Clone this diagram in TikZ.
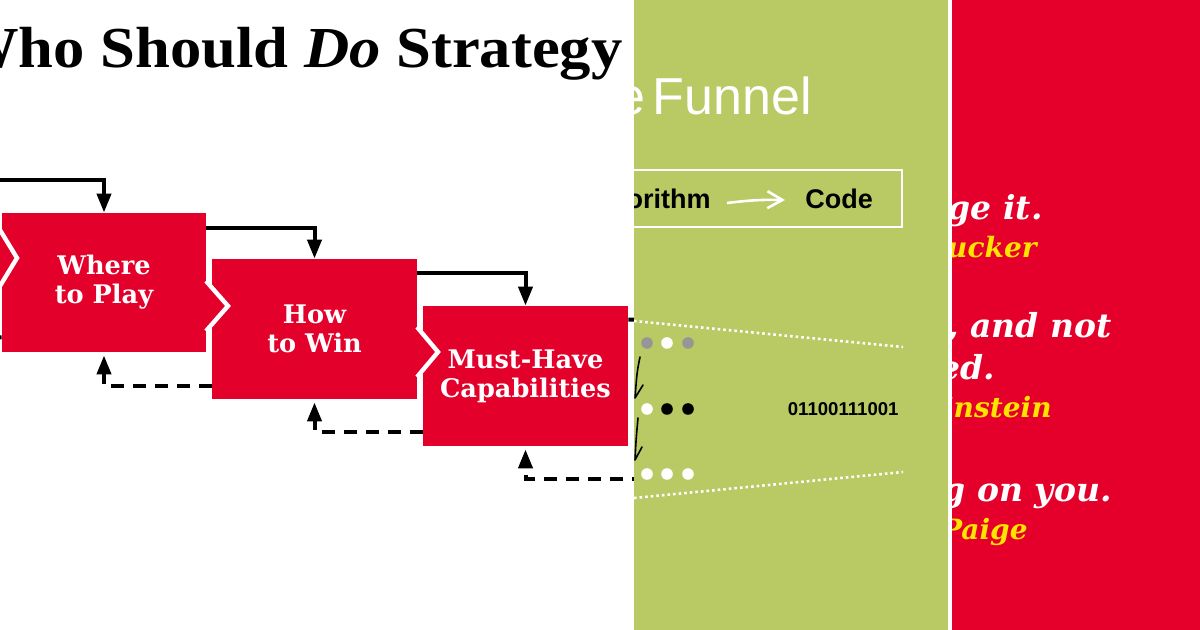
\documentclass[tikz,border=0pt]{standalone}
\usepackage{fontspec}
\setmainfont{Liberation Serif}
\newfontfamily\boxfont{DejaVu Serif}
\newfontfamily\helv{Liberation Sans}
\usetikzlibrary{arrows.meta,calc}
\definecolor{boxred}{RGB}{227,0,43}
\definecolor{panelred}{RGB}{229,0,43}
\definecolor{olive}{RGB}{185,201,99}
\definecolor{qyellow}{RGB}{255,228,0}
\definecolor{dotgray}{RGB}{150,150,150}
\begin{document}
\begin{tikzpicture}[x=0.5pt,y=-0.5pt,
  stratbox/.style={fill=boxred, draw=none, minimum width=102.5pt, minimum height=70pt,
    inner sep=0pt, text=white, font=\boxfont\bfseries\fontsize{12.8}{14.5}\selectfont, align=center},
  flow/.style={line width=2pt, -{Triangle[length=9.5pt,width=7pt]}},
  back/.style={line width=2pt, dash pattern=on 6.5pt off 4.5pt, shorten >=1.5pt,
    -{Triangle[length=9.5pt,width=7pt]}},
  backline/.style={line width=2pt, dash pattern=on 6.5pt off 4.5pt},
  notch/.style={white, line width=2.2pt, line join=miter},
  tip/.style={fill=boxred},
  dot/.style={circle, minimum size=5.8pt, inner sep=0pt, draw=none},
  quote/.style={anchor=base east, inner sep=0pt, text=white,
    font=\boxfont\bfseries\itshape\fontsize{16.5}{18}\selectfont},
  who/.style={quote, text=qyellow, font=\boxfont\bfseries\itshape\fontsize{14}{16}\selectfont},
  hand/.style={black, line width=0.8pt, line cap=round, line join=round}
]
\useasboundingbox (0,0) rectangle (1200,630);
\clip (0,0) rectangle (1200,630);
\fill[white] (0,0) rectangle (1200,630);

% ---------- left panel ----------
\node[anchor=base east, inner sep=0pt, font=\bfseries\fontsize{29}{31}\selectfont] (title)
  at (623,68) {\scalebox{1.08}[1]{Who Should \textit{Do} Strategy}};

\node[stratbox, minimum width=102pt, minimum height=69.5pt] (b1) at (104,282.5) {Where\\to Play};
\node[stratbox] (b2) at (314.5,329) {How\\to Win};
\node[stratbox] (b3) at (525.5,376) {Must-Have\\Capabilities};

% chevron tips between boxes
\fill[tip] (-10,230) -- (0,230) -- (17,258) -- (0,286) -- (-10,286) -- cycle;
\draw[notch] (0,230) -- (17,258) -- (0,286);
\fill[tip] (204,281) -- (228,306) -- (204,331) -- cycle;
\draw[notch] (206,281) -- (228,306) -- (206,331);
\fill[tip] (415,327) -- (438,352) -- (415,377) -- cycle;
\draw[notch] (417,327) -- (438,352) -- (417,377);

% forward arrows
\coordinate (in1) at (-10,180);
\coordinate (out3) at (645,320);
\draw[flow] (in1) -| (b1.north);
\draw[flow] ($(b1.north east)+(0,15)$) -| (b2.north);
\draw[flow] ($(b2.north east)+(0,14)$) -| (b3.north);
\draw[line width=2pt] ($(b3.north east)+(0,14)$) -- (out3);

% feedback arrows
\coordinate (out1) at (-10,337);
\coordinate (in3) at (645,479);
\draw[backline] ($(b1.south west)+(0,-15)$) -- (out1);
\draw[back] ($(b2.south west)+(0,-13)$) -| (b1.south);
\draw[back] ($(b3.south west)+(0,-14)$) -| (b2.south);
\draw[back] (in3) -| (b3.south);

% ---------- green panel ----------
\begin{scope}
\clip (634,0) rectangle (948,630);
\fill[olive] (634,0) rectangle (948,630);
\node[anchor=base east, inner sep=0pt, text=white, font=\helv\fontsize{26}{28}\selectfont]
  (funnel) at (812,115) {e\kern-3.5pt\ Funnel};
\draw[white, line width=0.8pt] (600,170) rectangle (902,227);
\node[anchor=base east, inner sep=0pt, font=\helv\bfseries\fontsize{13.5}{15}\selectfont]
  (alg) at (711,209) {gorithm};
\node[anchor=base west, inner sep=0pt, font=\helv\bfseries\fontsize{13.5}{15}\selectfont]
  (code) at (805,209) {Code};
\draw[white, line width=1.3pt, -{Straight Barb[length=7.5pt,width=8.5pt]}]
  ([xshift=8pt,yshift=3pt]alg.base east) to[bend left=4] ([xshift=-10pt,yshift=4.5pt]code.base west);
\draw[white, line width=1.3pt, dash pattern=on 1.3pt off 1.5pt] (634,321) -- (903,347);
\draw[white, line width=1.3pt, dash pattern=on 1.3pt off 1.5pt] (634,498) -- (903,472);
\node[dot, fill=dotgray] (d11) at (647,343) {};
\node[dot, fill=white]   (d12) at (667,343) {};
\node[dot, fill=dotgray] (d13) at (688,343) {};
\node[dot, fill=white]   (d21) at (647,409) {};
\node[dot, fill=black]   (d22) at (667,409) {};
\node[dot, fill=black]   (d23) at (688,409) {};
\node[dot, fill=white]   (d31) at (647,474) {};
\node[dot, fill=white]   (d32) at (667,474) {};
\node[dot, fill=white]   (d33) at (688,474) {};
\node[anchor=east, inner sep=0pt, font=\helv\bfseries\fontsize{9.3}{10}\selectfont]
  (bin) at (899,409) {01100111001};
\draw[hand] (640,357) .. controls (637,372) .. (635,398) -- (643,385);
\draw[hand] (638,418) .. controls (636,440) .. (635,460) -- (642,447);
\end{scope}

% ---------- red panel ----------
\begin{scope}
\clip (952,0) rectangle (1200,630);
\fill[panelred] (952,0) rectangle (1200,630);
\node[quote] (q1) at (1043,220) {age it.};
\node[who]   (a1) at (1037,258) {rucker};
\node[quote] (q2) at (1112,338) {, and not};
\node[quote] (q3) at (995,380) {ed.};
\node[who]   (a2) at (1052,418) {instein};
\node[quote] (q4) at (1112,502) {g on you.};
\node[who]   (a3) at (1028,540) {Paige};
\end{scope}
\end{tikzpicture}
\end{document}
